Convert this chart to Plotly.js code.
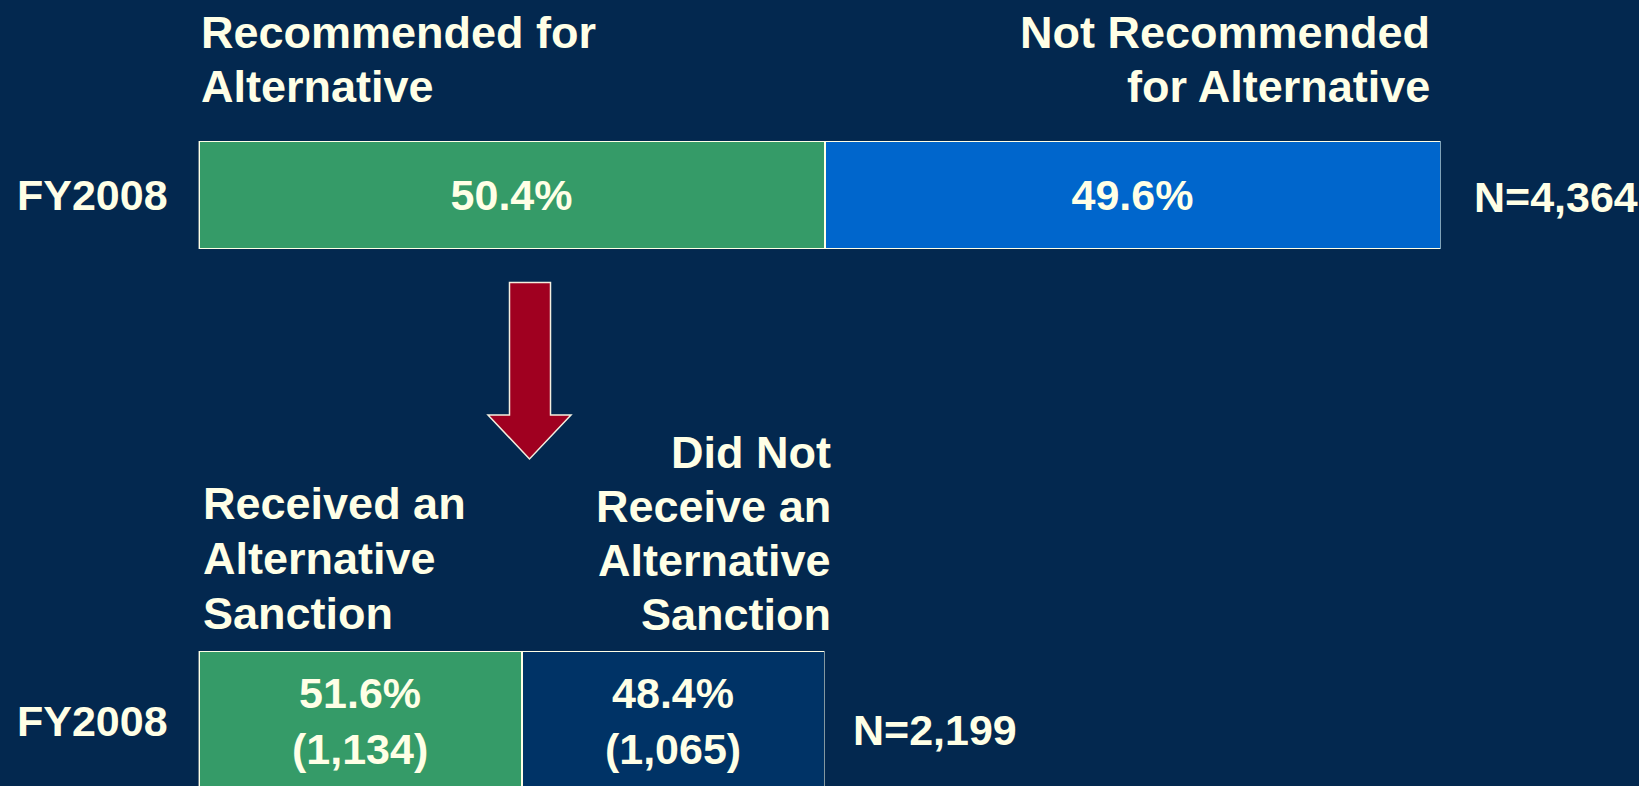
<!DOCTYPE html>
<html>
<head>
<meta charset="utf-8">
<script src="https://cdn.plot.ly/plotly-3.0.1.min.js"></script>
<style>html,body{margin:0;padding:0;background:#03284f;}#chart{width:1639px;height:786px;}</style>
</head>
<body>
<div id="chart"></div>
<script>
// ---- data ----
const periods = ['FY2008'];
const topSeriesNames = ['Recommended for<br>Alternative', 'Not Recommended<br>for Alternative'];
const topValues = [50.4, 49.6];
const topTotal = 'N=4,364';
const bottomSeriesNames = ['Received an<br>Alternative<br>Sanction', 'Did Not<br>Receive an<br>Alternative<br>Sanction'];
const bottomValues = [51.6, 48.4];
const bottomCounts = ['1,134', '1,065'];
const bottomTotal = 'N=2,199';

// ---- styling ----
const W = 1639, H = 786;
const BG = '#03284f';
const CREAM = '#ffffe6';
const FONT = 'Liberation Sans, Arial, sans-serif';
const FS = 43;
const HEAD_FS = 45;
const topColors = ['#359b68', '#0066cc'];
const bottomColors = ['#359b68', '#003366'];
const px = x => x / W;
const py = y => 1 - y / H;

const textFont = {family: FONT, size: FS, color: CREAM, weight: 'bold'};
const headFont = {family: FONT, size: HEAD_FS, color: CREAM, weight: 'bold'};

const traces = [];
topValues.forEach((v, i) => {
  traces.push({
    type: 'bar', orientation: 'h', name: topSeriesNames[i],
    x: [v], y: periods, xaxis: 'x', yaxis: 'y',
    width: 1,
    marker: {color: topColors[i], line: {color: CREAM, width: 2}},
    texttemplate: '%{x:.1f}%', textposition: 'inside', insidetextanchor: 'middle',
    constraintext: 'none',
    textfont: textFont, hoverinfo: 'skip'
  });
});
bottomValues.forEach((v, i) => {
  traces.push({
    type: 'bar', orientation: 'h', name: bottomSeriesNames[i],
    x: [v], y: periods, xaxis: 'x2', yaxis: 'y2',
    width: 1,
    customdata: [bottomCounts[i]],
    marker: {color: bottomColors[i], line: {color: CREAM, width: 2}},
    texttemplate: '%{x:.1f}%<br>(%{customdata})', textposition: 'inside', insidetextanchor: 'middle',
    constraintext: 'none',
    textfont: textFont, hoverinfo: 'skip'
  });
});

// top bar spans 198.6..1440.5 px; bottom bar spans the "recommended" share of it
const topL = 198.6, topR = 1440.5;
const botR = topL + (topR - topL) * topValues[0] / 100;

const hiddenX = {showgrid: false, zeroline: false, showticklabels: false, showline: false, ticks: '', fixedrange: true, range: [0, 100]};
const yStyle = {type: 'category', showgrid: false, zeroline: false, showline: false, ticks: '',
  tickfont: textFont, ticklabelstandoff: 30, fixedrange: true};

const ann = (text, x, y, xanchor, font) => ({
  text, x: px(x), y: py(y), xref: 'paper', yref: 'paper', xanchor, yanchor: 'middle',
  showarrow: false, font
});
// multi-line header: one annotation per line, with its own line centre
const header = (name, x, firstY, step, xanchor) =>
  name.split('<br>').map((line, k) => ann(line, x, firstY + k * step, xanchor, headFont));

const annotations = [
  ...header(topSeriesNames[0], 199, 32, 54, 'left'),
  ...header(topSeriesNames[1], 1432, 32, 54, 'right'),
  ann(topTotal, 1472, 197, 'left', textFont),
  ...header(bottomSeriesNames[0], 201, 504, 54.5, 'left'),
  ...header(bottomSeriesNames[1], 833, 452, 54.3, 'right'),
  ann(bottomTotal, 851, 730, 'left', textFont)
];

// decorative arrow (pixel outline converted to paper coords)
const arrowPts = [[509.5,282.5],[550.5,282.5],[550.5,415],[571,415],[529.5,459],[488,415],[509.5,415]];
const arrowPath = 'M ' + arrowPts.map(p => px(p[0]).toFixed(5) + ',' + py(p[1]).toFixed(5)).join(' L ') + ' Z';

const layout = {
  width: W, height: H,
  margin: {l: 0, r: 0, t: 0, b: 0, pad: 0},
  paper_bgcolor: BG, plot_bgcolor: 'rgba(0,0,0,0)',
  barmode: 'stack', bargap: 0, showlegend: false,
  font: {family: FONT, color: CREAM},
  xaxis: Object.assign({}, hiddenX, {domain: [px(topL), px(topR)], anchor: 'y'}),
  yaxis: Object.assign({}, yStyle, {domain: [py(249), py(141)], range: [-0.5, 0.5], anchor: 'x'}),
  xaxis2: Object.assign({}, hiddenX, {domain: [px(topL), px(botR)], anchor: 'y2'}),
  yaxis2: Object.assign({}, yStyle, {domain: [0, py(651)], range: [-0.5 + 5/140, 0.5], anchor: 'x2'}),
  annotations,
  shapes: [{type: 'path', xref: 'paper', yref: 'paper', path: arrowPath,
    fillcolor: '#a00020', line: {color: '#f4efe0', width: 1.5}}]
};

Plotly.newPlot('chart', traces, layout, {staticPlot: true, displayModeBar: false});
</script>
</body>
</html>
